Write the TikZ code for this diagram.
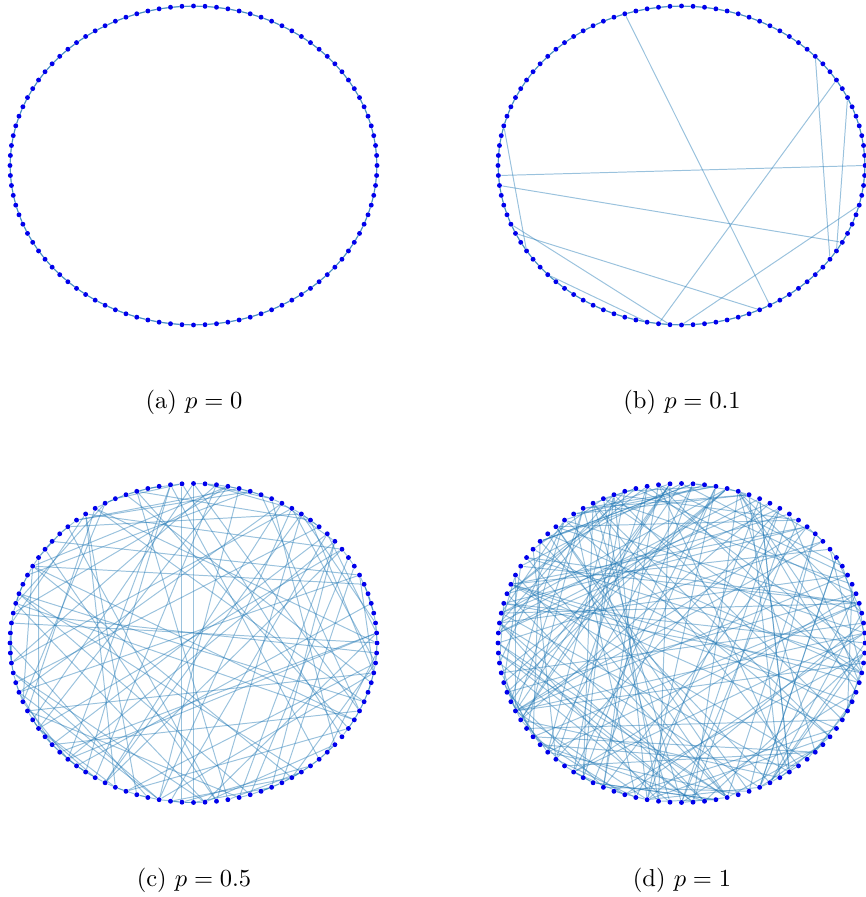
\documentclass[tikz,border=0pt]{standalone}
\usepackage{amsmath}
\usepackage{xcolor}
\usepackage{tikz}
\usetikzlibrary{backgrounds}
\definecolor{edgeblue}{RGB}{31,119,180}
\definecolor{nodeblue}{RGB}{0,0,235}

\begin{document}
\begin{tikzpicture}[x=0.408pt, y=-0.408pt,
  dot/.style={circle, fill=nodeblue, inner sep=0pt, minimum size=2pt},
  link/.style={draw=edgeblue, draw opacity=0.45, line width=0.4pt},
  captext/.style={font=\normalsize, inner sep=0pt}]
\useasboundingbox (0,0) rectangle (865,897);

% 100 nodes on each of the four rings
\foreach \p/\cx/\cy in {a/193.5/165.5, b/681.5/165.5, c/193.5/643, d/681.5/643}
  \foreach \i in {0,...,99}
    \node[dot] (\p-\i) at ({\cx+183.5*cos(3.6*\i)}, {\cy-159.5*sin(3.6*\i)}) {};

\begin{pgfonlayer}{background}
% (a) and (b): ring lattice, k = 4
\foreach \p in {a,b}
  \foreach \i in {0,...,99}
    \foreach \j in {1,2} {
      \pgfmathtruncatemacro{\t}{mod(\i+\j,100)}
      \draw[link] (\p-\i) -- (\p-\t);
    }
% (b): rewired links
\foreach \u/\v in {30/83, 51/0, 52/92, 46/59, 56/74, 57/82, 62/72, 9/73, 12/90, 7/91, 96/75}
  \draw[link] (b-\u) -- (b-\v);
% (c): half of the links rewired
\pgfmathsetseed{11}
\foreach \i in {0,...,99}
  \foreach \j in {1,2} {
    \pgfmathrandominteger{\w}{0}{99}
    \pgfmathtruncatemacro{\w}{\w==\i ? mod(\i+50,100) : \w}
    \pgfmathtruncatemacro{\t}{rnd<0.5 ? \w : mod(\i+\j,100)}
    \draw[link] (c-\i) -- (c-\t);
  }
% (d): every link rewired
\pgfmathsetseed{23}
\foreach \i in {0,...,99}
  \foreach \j in {1,2} {
    \pgfmathrandominteger{\w}{0}{99}
    \pgfmathtruncatemacro{\t}{\w==\i ? mod(\i+50,100) : \w}
    \draw[link] (d-\i) -- (d-\t);
  }
\end{pgfonlayer}

% captions
\node[captext] (cap-a) at (194,402.5) {(a) $p=0$};
\node[captext] (cap-b) at (682,402.5) {(b) $p=0.1$};
\node[captext] (cap-c) at (194,880.5) {(c) $p=0.5$};
\node[captext] (cap-d) at (682,880.5) {(d) $p=1$};
\end{tikzpicture}
\end{document}
